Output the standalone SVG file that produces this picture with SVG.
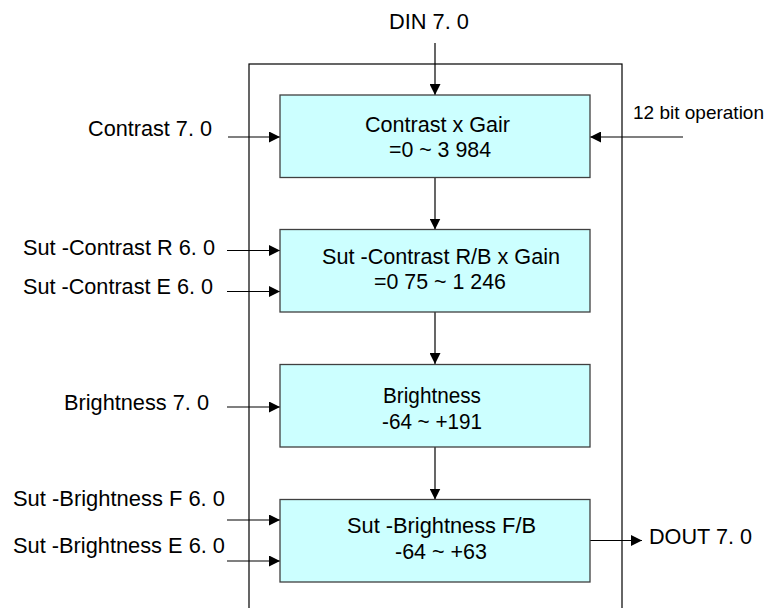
<svg xmlns="http://www.w3.org/2000/svg" width="779" height="608" viewBox="0 0 779 608">
<defs>
<style>
text{font-family:"Liberation Sans",Arial,sans-serif;font-size:22px;fill:#000}
.box{fill:#CCFFFF;stroke:#404040;stroke-width:1.3}
.ln{stroke:#000;stroke-width:1.2;fill:none}
</style>
<marker id="ah" markerUnits="userSpaceOnUse" markerWidth="11" markerHeight="11" refX="11" refY="5.5" orient="auto" viewBox="0 0 11 11">
<path d="M0,0 L11,5.5 L0,11 z" fill="#000"/>
</marker>
</defs>
<rect width="779" height="608" fill="#fff"/>
<g id="frame"><rect x="249" y="64" width="373" height="570" fill="none" stroke="#000" stroke-width="1.2"/></g>
<g id="connectors">
<line class="ln" x1="435" y1="43" x2="435" y2="95" marker-end="url(#ah)"/>
<line class="ln" x1="435" y1="177" x2="435" y2="229.5" marker-end="url(#ah)"/>
<line class="ln" x1="435" y1="312" x2="435" y2="364" marker-end="url(#ah)"/>
<line class="ln" x1="435" y1="447" x2="435" y2="499.5" marker-end="url(#ah)"/>
<line class="ln" x1="228" y1="137" x2="280" y2="137" marker-end="url(#ah)"/>
<line class="ln" x1="683" y1="137" x2="590" y2="137" marker-end="url(#ah)"/>
<line class="ln" x1="227" y1="250.5" x2="280" y2="250.5" marker-end="url(#ah)"/>
<line class="ln" x1="227" y1="291.5" x2="280" y2="291.5" marker-end="url(#ah)"/>
<line class="ln" x1="227" y1="407" x2="280" y2="407" marker-end="url(#ah)"/>
<line class="ln" x1="227" y1="520" x2="280" y2="520" marker-end="url(#ah)"/>
<line class="ln" x1="227" y1="561" x2="280" y2="561" marker-end="url(#ah)"/>
<line class="ln" x1="590" y1="540.5" x2="642" y2="540.5" marker-end="url(#ah)"/>
</g>
<g id="labels">
<text x="389" y="29" textLength="80" lengthAdjust="spacingAndGlyphs">DIN 7. 0</text>
<text x="88" y="136" textLength="124" lengthAdjust="spacingAndGlyphs">Contrast 7. 0</text>
<text x="633" y="119" style="font-size:19px">12 bit operation</text>
<text x="23" y="255" textLength="192" lengthAdjust="spacingAndGlyphs">Sut -Contrast R 6. 0</text>
<text x="23" y="294" textLength="190" lengthAdjust="spacingAndGlyphs">Sut -Contrast E 6. 0</text>
<text x="64" y="410" textLength="145" lengthAdjust="spacingAndGlyphs">Brightness 7. 0</text>
<text x="13" y="506" textLength="212" lengthAdjust="spacingAndGlyphs">Sut -Brightness F 6. 0</text>
<text x="13" y="553" textLength="212" lengthAdjust="spacingAndGlyphs">Sut -Brightness E 6. 0</text>
<text x="649" y="544" textLength="103" lengthAdjust="spacingAndGlyphs">DOUT 7. 0</text>
</g>
<g id="node-contrast">
<rect class="box" x="280" y="95" width="310" height="82.5"/>
<text x="365" y="132" textLength="145" lengthAdjust="spacingAndGlyphs">Contrast x Gair</text>
<text x="389" y="157" textLength="102" lengthAdjust="spacingAndGlyphs">=0 ~ 3 984</text>
</g>
<g id="node-subcontrast">
<rect class="box" x="280" y="229.5" width="310" height="82.5"/>
<text x="322" y="264" textLength="238" lengthAdjust="spacingAndGlyphs">Sut -Contrast R/B x Gain</text>
<text x="374" y="289" textLength="132" lengthAdjust="spacingAndGlyphs">=0 75 ~ 1 246</text>
</g>
<g id="node-brightness">
<rect class="box" x="280" y="364.5" width="310" height="82.5"/>
<text x="383" y="403" textLength="98" lengthAdjust="spacingAndGlyphs">Brightness</text>
<text x="382" y="429" textLength="100" lengthAdjust="spacingAndGlyphs">-64 ~ +191</text>
</g>
<g id="node-subbrightness">
<rect class="box" x="280" y="499.5" width="310" height="82.5"/>
<text x="347" y="533" textLength="189" lengthAdjust="spacingAndGlyphs">Sut -Brightness F/B</text>
<text x="395" y="559" textLength="92" lengthAdjust="spacingAndGlyphs">-64 ~ +63</text>
</g>
</svg>
